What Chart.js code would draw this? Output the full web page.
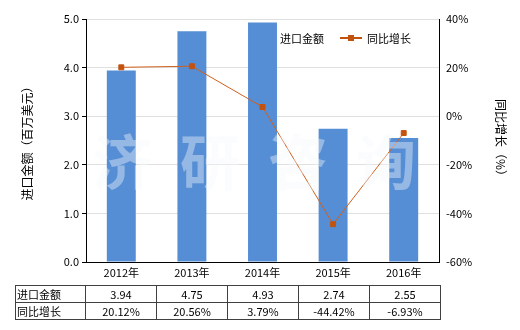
<!DOCTYPE html>
<html><head><meta charset="utf-8">
<script src="https://cdn.jsdelivr.net/npm/chart.js@4.4.1/dist/chart.umd.min.js"></script>
<style>
html,body{margin:0;padding:0;background:#fff;}
#wrap{position:relative;width:520px;height:330px;font-family:"Noto Sans CJK SC","Noto Sans",sans-serif;}
#c{position:absolute;left:0;top:0;}
table{position:absolute;left:15px;top:285px;border-collapse:collapse;font-size:11px;color:#000;}
td{border:1px solid #404040;height:16px;padding:0;text-align:center;width:70px;line-height:15px;}
td.h{width:68px;text-align:left;padding-left:1px;}
#legend{position:absolute;left:280px;top:30px;font-size:11px;color:#000;}
#legend span{position:absolute;white-space:nowrap;}
</style></head>
<body><div id="wrap"><canvas id="c" width="520" height="330"></canvas>
<div id="legend"><span style="left:0;top:0">进口金额</span>
<span style="left:60px;top:7px;width:22px;height:2px;background:#C4520F"></span>
<span style="left:68px;top:5px;width:6px;height:6px;background:#C4520F"></span>
<span style="left:87px;top:0">同比增长</span></div>
<table id="tbl"></table></div>
<script>
const categories = ["2012年","2013年","2014年","2015年","2016年"];
const importValues = [3.94, 4.75, 4.93, 2.74, 2.55];
const growthValues = [20.12, 20.56, 3.79, -44.42, -6.93];
const seriesNames = ["进口金额","同比增长"];
const leftTitle = "进口金额（百万美元）";
const rightTitle = "同比增长（%）";
const watermark = ["济","研","咨","询"];

const tbl = document.getElementById('tbl');
let r1 = '<tr><td class="h">'+seriesNames[0]+'</td>' + importValues.map(v=>'<td>'+v.toFixed(2)+'</td>').join('') + '</tr>';
let r2 = '<tr><td class="h">'+seriesNames[1]+'</td>' + growthValues.map(v=>'<td>'+v.toFixed(2)+'%</td>').join('') + '</tr>';
tbl.innerHTML = r1 + r2;

const font = {family:'"Noto Sans CJK SC","Noto Sans",sans-serif', size:11};
const wm = {
  id:'wm',
  afterDatasetsDraw(chart){
    const ctx = chart.ctx;
    ctx.save();
    ctx.font = 'bold 60px "Noto Sans CJK SC"';
    ctx.fillStyle = 'rgba(246,248,250,0.4)';
    ctx.textAlign = 'center'; ctx.textBaseline = 'middle';
    const xs = [122, 210, 298, 386];
    watermark.forEach((ch,i)=>ctx.fillText(ch, xs[i], 162));
    ctx.restore();
  }
};
new Chart(document.getElementById('c'), {
  data:{
    labels: categories,
    datasets:[
      {type:'line', label:seriesNames[1], data:growthValues, yAxisID:'y1', borderColor:'#D0601E', borderWidth:1,
       pointStyle:'rect', pointRadius:3.5, pointBackgroundColor:'#C4520F', pointBorderColor:'#C4520F', order:0},
      {type:'bar', label:seriesNames[0], data:importValues, yAxisID:'y', backgroundColor:'#558ED5',
       barPercentage:0.41, categoryPercentage:1.0, order:1}
    ]
  },
  options:{
    responsive:false, animation:false,
    layout:{padding:{top:19,bottom:48,left:0,right:0}},
    plugins:{legend:{display:false}, tooltip:{enabled:false}},
    scales:{
      x:{grid:{display:false, drawTicks:false}, border:{color:'#000'}, ticks:{font, color:'#000', padding:4, maxRotation:0},
         afterFit(s){s.height=20;}},
      y:{position:'left', min:0, max:5, ticks:{stepSize:1, font, color:'#000', callback:v=>v.toFixed(1), padding:3},
         grid:{color:'#E0E0E0', tickColor:'#000', tickLength:4}, border:{color:'#000'},
         title:{display:true, text:leftTitle, font:{family:font.family,size:12}, color:'#000', padding:{top:20,bottom:0}},
         afterFit(s){s.width=86;}},
      y1:{position:'right', min:-60, max:40, ticks:{stepSize:20, font, color:'#000', callback:v=>v+'%', padding:3},
         grid:{display:false, drawOnChartArea:false, tickColor:'#000', tickLength:4}, border:{color:'#000'},
         title:{display:true, text:rightTitle, font:{family:font.family,size:12}, color:'#000', padding:{top:12,bottom:0}},
         afterFit(s){s.width=81;}}
    }
  },
  plugins:[wm]
});
</script></body></html>
